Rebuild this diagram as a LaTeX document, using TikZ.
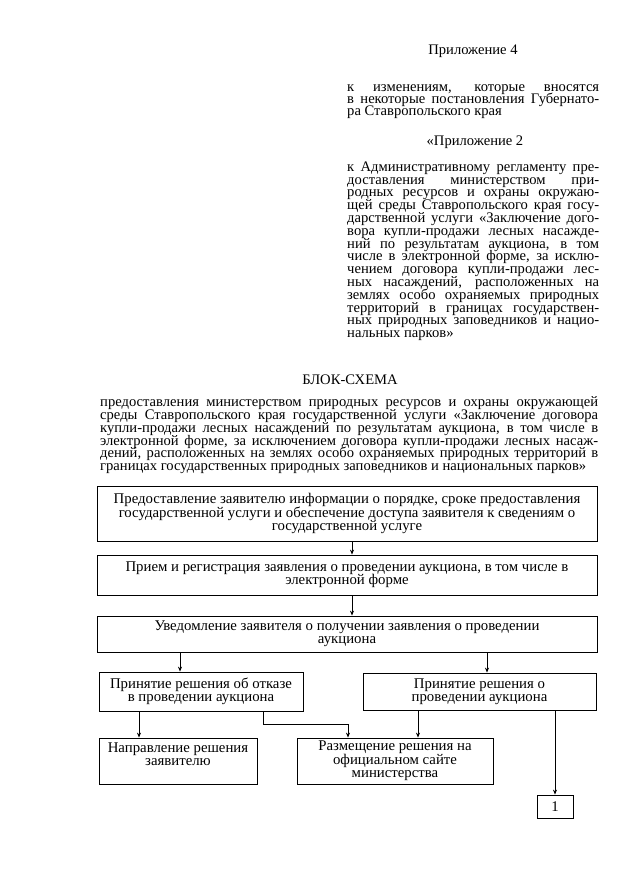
\documentclass[tikz,border=0pt]{standalone}
\usepackage{fontspec}
\setmainfont{Liberation Serif}
\usetikzlibrary{arrows.meta}
\newcommand\tf{\fontsize{14.6}{12.8}\selectfont\lineskiplimit=-20pt\relax}
\newcommand\tfa{\fontsize{14.6}{12.2}\selectfont\lineskiplimit=-20pt\relax}
\newcommand\boxfont{\fontsize{14.8}{13.4}\selectfont\lineskiplimit=-20pt\relax}
\newcommand\fst{\vrule height 11pt depth 0pt width 0pt\relax}
\newcommand\jl[1]{\hbox to 252pt{#1}}
\newcommand\jw[1]{\hbox to 498pt{#1}}
\begin{document}
\begin{tikzpicture}[x=1pt,y=-1pt,
  box/.style={draw, line width=0.8pt, inner sep=0pt, align=center, font=\boxfont},
  arr/.style={line width=0.8pt, -{Stealth[length=5pt,width=4pt]}},
  blk/.style={anchor=north west, inner sep=0pt, font=\tf},
  ttl/.style={anchor=base, inner sep=0pt, font=\tf}]
\useasboundingbox (0,0) rectangle (640,895);
\fill[white] (0,0) rectangle (640,895);

% header
\node[ttl] (h1) at (473,54) {Приложение 4};
\node[blk, font=\tfa] (ba) at (347,80) {\vbox{%
\jl{\fst к изменениям, которые вносятся}
\jl{в некоторые постановления Губернато-}
\hbox{ра Ставропольского края}}};
\node[ttl] (h2) at (475,145) {«Приложение 2};
\node[blk] (bb) at (347,160) {\vbox{%
\jl{\fst к Административному регламенту пре-}
\jl{доставления министерством при-}
\jl{родных ресурсов и охраны окружаю-}
\jl{щей среды Ставропольского края госу-}
\jl{дарственной услуги «Заключение дого-}
\jl{вора купли-продажи лесных насажде-}
\jl{ний по результатам аукциона, в том}
\jl{числе в электронной форме, за исклю-}
\jl{чением договора купли-продажи лес-}
\jl{ных насаждений, расположенных на}
\jl{землях особо охраняемых природных}
\jl{территорий в границах государствен-}
\jl{ных природных заповедников и нацио-}
\hbox{нальных парков»}}};

\node[ttl] (h3) at (350,384) {БЛОК-СХЕМА};
\node[blk] (bc) at (100,395.5) {\vbox{%
\jw{\fst предоставления министерством природных ресурсов и охраны окружающей}
\jw{среды Ставропольского края государственной услуги «Заключение договора}
\jw{купли-продажи лесных насаждений по результатам аукциона, в том числе в}
\jw{электронной форме, за исключением договора купли-продажи лесных насаж-}
\jw{дений, расположенных на землях особо охраняемых природных территорий в}
\hbox{границах государственных природных заповедников и национальных парков»}}};

% boxes
\node[box, minimum width=500pt, minimum height=55pt] (b1) at (347,513.5)
  {Предоставление заявителю информации о порядке, сроке предоставления\\государственной услуги и обеспечение доступа заявителя к сведениям о\\государственной услуге};
\node[box, minimum width=500pt, minimum height=40pt] (b2) at (347,575)
  {Прием и регистрация заявления о проведении аукциона, в том числе в\\электронной форме};
\node[box, minimum width=500pt, minimum height=36pt] (b3) at (347,634)
  {Уведомление заявителя о получении заявления о проведении\\аукциона};
\node[box, minimum width=204pt, minimum height=39pt] (b4) at (201,691.5)
  {Принятие решения об отказе\\в проведении аукциона};
\node[box, minimum width=233pt, minimum height=37pt] (b5) at (479.5,691.5)
  {Принятие решения о\\проведении аукциона};
\node[box, minimum width=158pt, minimum height=46pt] (b6) at (178,761)
  {Направление решения\\заявителю\\\mbox{}};
\node[box, minimum width=196pt, minimum height=46pt] (b7) at (395,761)
  {Размещение решения на\\официальном сайте\\министерства};
\node[box, minimum width=36pt, minimum height=23pt] (b8) at (555,806.5) {1};

% connector x positions
\coordinate (xa) at (352,0);
\coordinate (xb) at (180,0);
\coordinate (xc) at (487,0);
\coordinate (xd) at (139,0);
\coordinate (j1) at (263,724);
\coordinate (xf) at (348,0);
\coordinate (xg) at (418,0);

\draw[arr] (b1.south -| xa) -- (b2.north -| xa);
\draw[arr] (b2.south -| xa) -- (b3.north -| xa);
\draw[arr] (b3.south -| xb) -- (b4.north -| xb);
\draw[arr] (b3.south -| xc) -- (b5.north -| xc);
\draw[arr] (b4.south -| xd) -- (b6.north -| xd);
\draw[arr] (b4.south -| j1) -- (j1) -| (b7.north -| xf);
\draw[arr] (b5.south -| xg) -- (b7.north -| xg);
\draw[arr] (b5.south -| b8.north) -- (b8.north);
\end{tikzpicture}
\end{document}
